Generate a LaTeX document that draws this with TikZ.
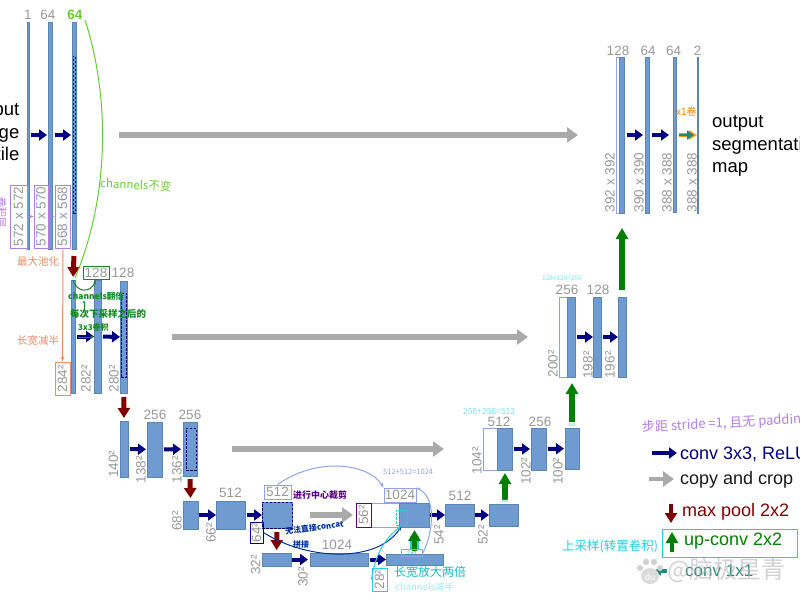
\documentclass[tikz,border=0pt]{standalone}
\usepackage{fontspec}
\usetikzlibrary{arrows.meta,calc}
\setmainfont{Liberation Sans}
\newfontfamily\cjk{Noto Sans CJK SC}
\definecolor{barfill}{HTML}{6F9BD1}
\definecolor{barline}{HTML}{5A86B4}
\definecolor{lab}{HTML}{989898}
\definecolor{pur}{HTML}{B57BE6}
\definecolor{peri}{HTML}{8FA3E8}
\definecolor{orng}{HTML}{F08A6A}
\definecolor{lime}{HTML}{66CC33}
\definecolor{dgreen}{HTML}{0F8A1E}
\definecolor{cyn}{HTML}{22CFE0}
\definecolor{teal2}{HTML}{1F8A7A}
\definecolor{navy}{HTML}{000080}
\definecolor{lightg}{HTML}{AAAAAA}
\definecolor{maroon2}{HTML}{800000}
\tikzset{
 barst/.style={draw=barline,fill=barfill,line width=.8pt,inner sep=0pt,outer sep=0pt},
 whitest/.style={draw=#1,fill=white,line width=.8pt,inner sep=0pt,outer sep=0pt},
 conv/.style={draw=navy,line width=4pt,-{Triangle[length=8pt,width=11pt]}},
 copyarr/.style={draw=lightg,line width=5.5pt,-{Triangle[length=11pt,width=15pt]}},
 pool/.style={draw=maroon2,line width=5pt,-{Triangle[length=10pt,width=12pt]}},
 upc/.style={draw=green!50!black,line width=5.5pt,-{Triangle[length=11pt,width=12pt]}},
 toplab/.style={text=lab,font=\fontsize{13.5}{14}\selectfont,inner sep=0pt},
 sidelab/.style={text=lab,font=\fontsize{13.5}{14}\selectfont,inner sep=0pt,rotate=90},
 boxlab/.style={sidelab,draw=#1,line width=.9pt,align=center},
 hand/.style={font=\cjk\fontsize{#1}{#1}\selectfont,inner sep=0pt},
 handb/.style={font=\cjk\bfseries\fontsize{#1}{#1}\selectfont,inner sep=0pt},
 bigtxt/.style={font=\fontsize{18.5}{22.5}\selectfont,inner sep=0pt},
 legtxt/.style={font=\fontsize{18}{20}\selectfont,inner sep=0pt,anchor=west},
}
\newcommand\blk[5]{\node[barst,minimum width={(#4-#2)*1pt},minimum height={(#5-#3)*1pt}] (#1) at ({(#2+#4)/2},{(#3+#5)/2}) {};}
\newcommand\wbox[5]{\node[whitest=peri,minimum width={(#4-#2)*1pt},minimum height={(#5-#3)*1pt}] (#1) at ({(#2+#4)/2},{(#3+#5)/2}) {};}
\newcommand\dbox[5]{\node[draw=navy,line width=1pt,inner sep=0pt,outer sep=0pt,dash pattern=on 2.5pt off 1.5pt,minimum width={(#4-#2)*1pt},minimum height={(#5-#3)*1pt}] (#1) at ({(#2+#4)/2},{(#3+#5)/2}) {};}
\begin{document}
\begin{tikzpicture}[x=1pt,y=-1pt]
\useasboundingbox (0,0) rectangle (800,600);
\clip (0,0) rectangle (800,600);
% --- contracting bars
\blk{aa}{27}{22}{29.2}{249}
\blk{ab}{48}{22}{52}{249}
\blk{ac}{72}{22}{76.5}{249}
\dbox{acd}{73.2}{56}{75.3}{213}
\blk{ba}{71}{280}{75}{393}
\blk{bb}{94}{280}{101}{393}
\blk{bc}{120}{281}{127.5}{393}
\dbox{bcd}{121}{293}{126.5}{377}
\blk{ca}{120}{421}{128}{477}
\blk{cb}{147}{422}{162}{477}
\blk{cc}{183}{422}{197}{476}
\dbox{ccd}{186}{428}{196}{470}
\blk{da}{183}{501}{198}{529}
\blk{db}{216}{501}{245}{529}
\blk{dc}{262}{502}{292}{528}
\dbox{dcd}{262}{502}{292}{528}
\blk{ea}{262}{553}{291}{566}
\blk{eb}{310}{553}{368}{566}
\blk{ec}{386}{554}{443}{565}
% --- expanding bars
\wbox{fw}{371}{503}{399}{527}
\blk{fa}{399}{503}{429}{527}
\blk{fb}{445}{504}{474}{526}
\blk{fc}{489}{504}{518}{526}
\wbox{gw}{483}{428}{497}{470}
\blk{ga}{497}{428}{512}{470}
\blk{gb}{531}{428}{546}{470}
\blk{gc}{565}{428}{579}{469}
\wbox{hw}{559}{297}{567}{377}
\blk{ha}{567}{297}{575}{377}
\blk{hb}{593}{297}{601}{377}
\blk{hc}{618}{297}{626}{377}
\wbox{iw}{616}{57}{619}{213}
\blk{ia}{619}{57}{624}{213}
\blk{ib}{645}{57}{649}{213}
\blk{ic}{673}{57}{676}{212}
\blk{id}{697}{57}{698.5}{213}
% --- conv arrows
\draw[conv,shorten <=1.5pt,shorten >=1pt] (aa.east|-0,135) -- (ab.west|-0,135);
\draw[conv,shorten <=2.5pt,shorten >=1pt] (ab.east|-0,135) -- (ac.west|-0,135);
\draw[conv,shorten <=2pt,shorten >=0pt] (ba) -- (bb);
\draw[conv,shorten <=2pt,shorten >=0pt] (bb) -- (bc);
\draw[conv,shorten <=2pt,shorten >=1pt] (ca) -- (cb);
\draw[conv,shorten <=2pt,shorten >=2pt] (cb) -- (cc);
\draw[conv,shorten <=1pt,shorten >=0pt] (da) -- (db);
\draw[conv,shorten <=2pt,shorten >=0pt] (db) -- (dc);
\draw[conv,shorten <=1pt,shorten >=2pt] (ea) -- (eb);
\draw[conv,shorten <=2pt,shorten >=0pt] (eb) -- (ec);
\draw[conv,shorten <=1pt,shorten >=0pt] (fa) -- (fb);
\draw[conv,shorten <=1pt,shorten >=0pt] (fb) -- (fc);
\draw[conv,shorten <=2pt,shorten >=1pt] (ga) -- (gb);
\draw[conv,shorten <=2pt,shorten >=1pt] (gb) -- (gc);
\draw[conv,shorten <=2pt,shorten >=0pt] (ha) -- (hb);
\draw[conv,shorten <=2pt,shorten >=0pt] (hb) -- (hc);
\draw[conv,shorten <=3pt,shorten >=2pt] (ia.east|-0,135) -- (ib.west|-0,135);
\draw[conv,shorten <=3pt,shorten >=4pt] (ib.east|-0,135) -- (ic.west|-0,135);
\draw[draw=orange!80!yellow,line width=4pt,-{Triangle[length=8pt,width=9pt]},shorten <=3pt] (ic.east|-0,135) -- (id.west|-0,135);
\draw[draw=teal2,line width=2.5pt,-{Triangle[length=7pt,width=9pt]},shorten <=3pt,shorten >=3pt] (ic.east|-0,135) -- (id.west|-0,135);
% --- copy arrows
\draw[copyarr,shorten <=42pt,shorten >=38pt] (ac.east|-0,135) -- (iw.west|-0,135);
\draw[copyarr,shorten <=44pt,shorten >=31pt] (bc.east|-0,337) -- (hw.west|-0,337);
\draw[copyarr,shorten <=35pt,shorten >=39pt] (cc.east|-0,449) -- (gw.west|-0,449);
\draw[copyarr,shorten <=18pt,shorten >=18pt] (dc.east|-0,515) -- (fw.west|-0,515);
% --- pool arrows
\draw[pool,shorten <=7pt,shorten >=3pt] (ac.south) -- (ba.north);
\draw[pool,shorten <=4pt,shorten >=3pt] (bc.south) -- (ca.north);
\draw[pool,shorten <=3pt,shorten >=3pt] (cc.south) -- (da.north);
\draw[pool,shorten <=4pt,shorten >=3pt] (dc.south) -- (ea.north);
% --- up arrows
\draw[draw=cyn,line width=9pt,shorten <=4pt,shorten >=9pt] (ec.north) -- (ec.north|-fa.south);
\draw[upc,shorten <=3pt,shorten >=3pt] (ec.north) -- (ec.north|-fa.south);
\draw[upc,shorten <=4pt,shorten >=3pt] (fc.north-|505,0) -- (505,0|-ga.south);
\draw[upc,shorten <=6pt,shorten >=6pt] (gc.north) -- (gc.north|-ha.south);
\draw[upc,shorten <=7pt,shorten >=15pt] (hc.north) -- (hc.north|-ia.south);
% --- top labels
\node[toplab] (t1) at (28,15) {1};
\node[toplab] (t2) at (48,15) {64};
\node[toplab,text=lime,font=\fontsize{13.5}{14}\selectfont\bfseries] (t3) at (75,15) {64};
\node[toplab,draw=dgreen,line width=.9pt,minimum width=26pt,minimum height=13.5pt] (t4) at (96,273) {128};
\node[toplab] (t5) at (123,273) {128};
\node[toplab] (t6) at (155,415) {256};
\node[toplab] (t7) at (190,415) {256};
\node[toplab] (t8) at (230.5,493) {512};
\node[toplab,draw=peri,line width=.9pt,minimum width=27pt,minimum height=14pt] (t9) at (277.5,492) {512};
\node[toplab] (t10) at (337,545) {1024};
\node[toplab,draw=peri,line width=.9pt,minimum width=32pt,minimum height=14pt] (t11) at (400,495) {1024};
\node[toplab] (t12) at (460,496) {512};
\node[toplab] (t13) at (499,422) {512};
\node[toplab] (t14) at (540,422) {256};
\node[toplab] (t15) at (567,290) {256};
\node[toplab] (t16) at (598,290) {128};
\node[toplab] (t17) at (618,51) {128};
\node[toplab] (t18) at (648,51) {64};
\node[toplab] (t19) at (673.6,51) {64};
\node[toplab] (t20) at (697.6,51) {2};
% --- side labels
\node[boxlab=pur,minimum width=63pt,minimum height=17pt] (s1) at (18.5,216.5) {572 x 572};
\node[boxlab=pur,minimum width=63pt,minimum height=14pt] (s2) at (41,216.5) {570 x 570};
\node[boxlab=pur,minimum width=63pt,minimum height=15pt] (s3) at (62.5,216.5) {568 x 568};
\node[boxlab=orng,minimum width=33pt,minimum height=15pt] (s4) at (62.5,378.5) {284²};
\node[sidelab] (s5) at (86,378.5) {282²};
\node[sidelab] (s6) at (114,378.5) {280²};
\node[sidelab] (s7) at (113.5,464) {140²};
\node[sidelab] (s8) at (141,469.5) {138²};
\node[sidelab] (s9) at (177,469.5) {136²};
\node[sidelab] (s10) at (177,521) {68²};
\node[sidelab] (s11) at (211,533) {66²};
\node[boxlab=navy,minimum width=21pt,minimum height=13pt] (s12) at (256.5,532.5) {64²};
\node[sidelab] (s13) at (255.6,565) {32²};
\node[sidelab] (s14) at (303,577) {30²};
\node[boxlab=cyn,minimum width=23pt,minimum height=15pt] (s15) at (379.5,579.5) {28²};
\node[boxlab=violet!70!navy,minimum width=24pt,minimum height=15pt] (s16) at (363.5,515) {56²};
\node[sidelab] (s17) at (439,535) {54²};
\node[sidelab] (s18) at (483,535) {52²};
\node[sidelab] (s19) at (477,460.5) {104²};
\node[sidelab] (s20) at (526,471) {102²};
\node[sidelab] (s21) at (558,471) {100²};
\node[sidelab] (s22) at (553,363.5) {200²};
\node[sidelab] (s23) at (588,365) {198²};
\node[sidelab] (s24) at (610,365) {196²};
\node[sidelab] (s25) at (610,182.5) {392 x 392};
\node[sidelab] (s26) at (639,182.5) {390 x 390};
\node[sidelab] (s27) at (667,182.5) {388 x 388};
\node[sidelab] (s28) at (692,182.5) {388 x 388};
% --- purple ties
\draw[pur,line width=1pt,-{Stealth[length=4pt]}] (s1) -- (s2);
\draw[pur,line width=1pt,-{Stealth[length=4pt]}] (s2) -- (s3);
% --- main text
\node[bigtxt,align=right,anchor=east] (intxt) at (19.5,131.5) {input\\image\\tile};
\node[bigtxt,align=left,anchor=west] (outtxt) at (712,146) {output\\segmentation\\map};
% --- legend
\coordinate (l1a) at (652,453); \coordinate (l1b) at (677,453);
\draw[conv] (l1a) -- (l1b);
\node[legtxt,text=navy] (leg1) at (680,454) {conv 3x3, ReLU};
\coordinate (l2a) at (649,479); \coordinate (l2b) at (674,479);
\draw[copyarr,line width=4.5pt] (l2a) -- (l2b);
\node[legtxt,text=black!90] (leg2) at (680,480) {copy and crop};
\coordinate (l3a) at (671,504); \coordinate (l3b) at (671,523);
\draw[pool,line width=4.5pt] (l3a) -- (l3b);
\node[legtxt,text=maroon2] (leg3) at (682,512) {max pool 2x2};
\node[draw=cyn,line width=1pt,minimum width=135pt,minimum height=28pt,inner sep=0pt] (legbox) at (729.5,543) {};
\coordinate (l4a) at (672,552); \coordinate (l4b) at (672,532);
\draw[upc,line width=4.5pt] (l4a) -- (l4b);
\node[legtxt,text=green!50!black] (leg4) at (684,541) {up-conv 2x2};
\coordinate (l5a) at (667,571); \coordinate (l5b) at (654,571);
\draw[draw=teal2,line width=4pt,-{Triangle[length=7pt,width=9pt]}] (l5a) -- (l5b);
\node[legtxt,text=teal2,font=\fontsize{17}{20}\selectfont] (leg5) at (685,571) {conv 1x1};
% --- watermark
\node[font=\cjk\fontsize{24}{24}\selectfont,text=black!30,opacity=.6,inner sep=0pt,anchor=west] (wm) at (667,570) {@脑极星青};
\fill[black!18] (640,568) circle (3) (646,562) circle (3.2) (654,562) circle (3.2) (660,568) circle (3);
\fill[black!14] (650,576) ellipse (9 and 8);
\node[font=\fontsize{9}{9}\selectfont,text=white,inner sep=0pt] (wm2) at (650,577) {du};
% --- handwritten notes
\node[hand=11.5,text=lime,rotate=-3,anchor=west] (n1) at (100,183) {channels不变};
\node[hand=10.5,text=orng,anchor=west] (n2) at (17,262) {最大池化};
\node[hand=10.5,text=orng,anchor=west] (n3) at (17,341) {长宽减半};
\node[handb=8.5,text=dgreen,anchor=west] (n4) at (68,296) {channels翻倍};
\node[handb=9.5,text=dgreen,anchor=west] (n5) at (70,314) {每次下采样之后的};
\node[handb=8,text=dgreen,anchor=west] (n6) at (78,327) {3x3卷积};
\node[handb=9,text=violet!70!navy,anchor=west] (n7) at (293,495) {进行中心裁剪};
\node[handb=8,text=navy!80!cyan,rotate=8,anchor=west] (n8) at (285,532) {无法直接concat};
\node[handb=8,text=navy!80!cyan,anchor=west] (n9) at (293,544) {拼接};
\node[hand=7.5,text=peri,anchor=west] (n10) at (383,472) {512+512=1024};
\node[hand=12,text=cyn!70!teal,anchor=west] (n11) at (394,572) {长宽放大两倍};
\node[hand=9.5,text=cyn!45,anchor=west] (n12) at (395,587) {channels减半};
\node[hand=12.5,text=cyn,anchor=west] (n13) at (562,546) {上采样(转置卷积)};
\node[hand=13,text=pur,rotate=3,anchor=west] (n14) at (642,428) {步距 stride =1, 且无 padding};
\node[hand=10,text=orange,anchor=west] (n15) at (676,112) {x1卷};
\node[hand=8.5,text=cyn!60,anchor=west] (n16) at (463,411) {256+256=512};
\node[hand=6.5,text=cyn!60,anchor=west] (n17) at (542,278) {128+128=256};
\node[hand=4.5,text=cyn,anchor=center] (n18) at (505,501) {2x2};
\node[hand=4.5,text=cyn,anchor=center] (n19) at (572,424.5) {2x2};
\node[hand=6,text=cyn!80!navy,draw=peri,line width=.8pt,minimum width=21pt,minimum height=7pt] (n20) at (412,553) {2x2};
\node[hand=6,text=navy!80!cyan,draw=cyn,line width=1pt,dash pattern=on 3pt off 1pt,minimum width=11pt,minimum height=15pt] (n21) at (401.5,517.5) {};
\node[hand=10,text=pur,rotate=-90] (n22) at (2,212) {卷积层};
% --- note connectors
\coordinate (g0) at (85,20);
\coordinate (g1) at (75,278);
\draw[lime,line width=1pt] (g0) .. controls (108,90) and (112,190) .. (g1);
\coordinate (o0) at (63,250);
\draw[orng,line width=1pt,-{Stealth[length=5pt]}] (o0) -- (s4.east);
\draw[dgreen,line width=1pt,-{Stealth[length=4pt]}] (ba.north) .. controls (76,292) and (90,294) .. (t4.south);
\draw[dgreen,line width=.8pt,-{Stealth[length=3pt]}] (n5.north-|84,0) -- (n4.south-|84,0);
\draw[dgreen,line width=1pt,-{Stealth[length=4pt]}] (78,337) -- (bb.west|-0,337);
\draw[peri,line width=1pt,-{Stealth[length=5pt]}] (t9.north) .. controls (320,455) and (370,465) .. (t11.north west);
\draw[peri,line width=1pt,-{Stealth[length=4pt]}] (n20.east) .. controls (430,540) and (440,500) .. (t11.north east);
\draw[navy!80!cyan,line width=1pt,-{Stealth[length=5pt]}] (s12.south) .. controls (310,562) and (380,562) .. (n21.south);
\draw[cyn,line width=1pt,-{Stealth[length=5pt]}] (s15.north) .. controls (376,548) and (390,535) .. (n21.south);
\end{tikzpicture}
\end{document}
